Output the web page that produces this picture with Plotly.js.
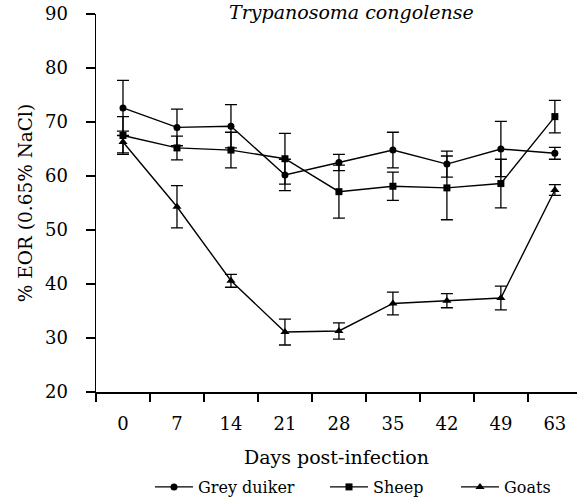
<!DOCTYPE html>
<html>
<head>
<meta charset="utf-8">
<script src="https://cdn.plot.ly/plotly-3.0.1.min.js"></script>
<style>
html,body{margin:0;padding:0;background:#fff;}
#chart{width:577px;height:499px;}
</style>
</head>
<body>
<div id="chart"></div>
<script>
const days = ['0','7','14','21','28','35','42','49','63'];
const greyDuiker = [72.6, 69.0, 69.2, 60.2, 62.5, 64.8, 62.2, 65.0, 64.2];
const greyDuikerErr = [5.1, 3.4, 4.0, 2.9, 1.5, 3.3, 2.4, 5.1, 1.1];
const sheep = [67.5, 65.2, 64.8, 63.2, 57.1, 58.1, 57.8, 58.6, 71.0];
const sheepErr = [3.5, 2.2, 3.3, 4.7, 4.9, 2.6, 5.9, 4.5, 3.0];
const goats = [66.3, 54.3, 40.6, 31.1, 31.3, 36.4, 36.9, 37.4, 57.4];
const goatsErr = [2.0, 3.9, 1.2, 2.4, 1.5, 2.1, 1.3, 2.2, 1.0];

const FONT = 'DejaVu Serif, serif';

function series(name, y, err, symbol, size, legend) {
  return {
    type: 'scatter', mode: 'lines+markers', name: name,
    x: days, y: y,
    line: {color: '#000', width: 1.4},
    marker: {color: '#000', symbol: symbol, size: size},
    error_y: {type: 'data', array: err, visible: true, color: '#000', thickness: 1.3, width: 6},
    legend: legend, cliponaxis: false
  };
}

const data = [
  series('Grey duiker', greyDuiker, greyDuikerErr, 'circle', 7, 'legend'),
  series('Sheep', sheep, sheepErr, 'square', 7, 'legend2'),
  series('Goats', goats, goatsErr, 'triangle-up', 8, 'legend3')
];

const W = 577, H = 499;
const legCommon = {orientation: 'h', xref: 'container', yref: 'container',
  yanchor: 'middle', y: 1 - 487 / H, xanchor: 'left',
  font: {family: FONT, size: 16, color: '#000'}, bgcolor: 'rgba(0,0,0,0)', borderwidth: 0,
  itemwidth: 38};

const layout = {
  width: W, height: H,
  margin: {l: 96, r: 0, t: 14, b: 107, autoexpand: false},
  paper_bgcolor: '#fff', plot_bgcolor: '#fff',
  font: {family: FONT, color: '#000'},
  showlegend: true,
  xaxis: {
    type: 'category', categoryarray: days, range: [-0.5, 8.41],
    tickson: 'boundaries', ticks: 'outside', ticklen: 8, tickwidth: 1.5, tickcolor: '#000',
    showline: true, linecolor: '#000', linewidth: 1.5, showgrid: false, zeroline: false,
    tickfont: {family: FONT, size: 18, color: '#000'}, ticklabelstandoff: 15,
    title: {text: 'Days post-infection', font: {family: FONT, size: 19, color: '#000'}, standoff: 17},
    automargin: false, fixedrange: true
  },
  yaxis: {
    range: [20, 90], dtick: 10, tick0: 20,
    ticks: 'outside', ticklen: 9, tickwidth: 1.5, tickcolor: '#000',
    showline: true, linecolor: '#000', linewidth: 1.5, showgrid: false, zeroline: false,
    tickfont: {family: FONT, size: 18, color: '#000'}, ticklabelstandoff: 14,
    title: {text: '% EOR (0.65% NaCl)', font: {family: FONT, size: 18.5, color: '#000'}, standoff: 7},
    automargin: false, fixedrange: true
  },
  legend: Object.assign({}, legCommon, {x: 150 / W}),
  legend2: Object.assign({}, legCommon, {x: 325 / W}),
  legend3: Object.assign({}, legCommon, {x: 456 / W}),
  annotations: [{
    text: '<i>Trypanosoma congolense</i>', xref: 'paper', yref: 'paper',
    x: (351 - 96) / 481, y: 1 + (14 - 12) / 378, xanchor: 'center', yanchor: 'middle',
    showarrow: false, font: {family: FONT, size: 19, color: '#000'}
  }]
};

Plotly.newPlot('chart', data, layout, {displayModeBar: false, staticPlot: true});
</script>
</body>
</html>
